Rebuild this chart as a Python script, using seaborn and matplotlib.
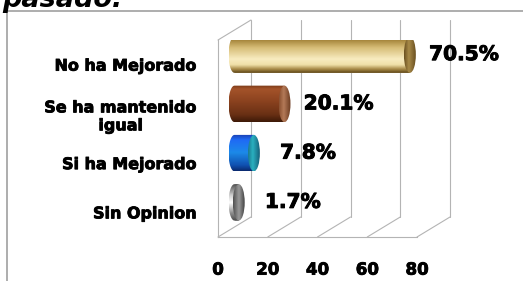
import numpy as np
import matplotlib
matplotlib.use("Agg")
import matplotlib.pyplot as plt
import matplotlib.transforms as mtransforms
import matplotlib.patheffects as pe
from matplotlib.colors import LinearSegmentedColormap
from matplotlib.patches import Ellipse, ConnectionPatch
from matplotlib.path import Path
from matplotlib.lines import Line2D
import seaborn as sns

# datos
categorias = ["No ha Mejorado", "Se ha mantenido\nigual", "Si ha Mejorado", "Sin Opinion"]
porcentajes = [70.5, 20.1, 7.8, 1.7]
etiquetas = ["70.5%", "20.1%", "7.8%", "1.7%"]
ticks_x = [0, 20, 40, 60, 80]

colores_base = ["#d9c07a", "#8e4420", "#1c7ae8", "#b0b0b0"]
degradados = [
    [(0, "#6e5220"), (0.1, "#a8883e"), (0.3, "#d6bc76"), (0.62, "#f8ecc0"),
     (0.78, "#f0e0a8"), (0.9, "#a88a48"), (1, "#5e4718")],
    [(0, "#7a3a18"), (0.1, "#a4532a"), (0.4, "#8e4420"), (0.8, "#6a3014"), (1, "#3e1a08")],
    [(0, "#1a3fb0"), (0.15, "#1f6af5"), (0.5, "#1c8ae8"), (0.85, "#1050b0"), (1, "#0a2a70")],
    [(0, "#505050"), (0.3, "#d0d0d0"), (0.5, "#ffffff"), (0.8, "#8a8a8a"), (1, "#4a4a4a")],
]
degradados_tapa = [
    [(0, "#6a5020"), (0.4, "#a88a48"), (1, "#6a5020")],
    [(0, "#8a5030"), (0.4, "#b47a58"), (1, "#6a3a20")],
    [(0, "#1a7a90"), (0.4, "#2ab0c0"), (1, "#15607a")],
    [(0, "#505050"), (0.5, "#9a9a9a"), (1, "#404040")],
]

sns.set_style("white")
plt.rcParams['font.family'] = ['DejaVu Sans']
plt.rcParams['text.color'] = 'black'
plt.rcParams['xtick.labelcolor'] = 'black'
plt.rcParams['ytick.labelcolor'] = 'black'

grueso = [pe.withStroke(linewidth=0.7, foreground="black")]

fig = plt.figure(figsize=(5.23, 2.81), dpi=100)
ax = fig.add_axes([218 / 523, 1 - 237 / 281, 199 / 523, 197 / 281])

sns.barplot(x=porcentajes, y=categorias, hue=categorias, palette=colores_base,
            orient="h", width=0.74, legend=False, ax=ax)
barras = list(ax.patches)

# profundidad 3D (px)
dx, dy = 33, 20
trans_barra = ax.transData + mtransforms.ScaledTranslation(dx / 2 / 100, dy / 2 / 100, fig.dpi_scale_trans)
trans_fondo = ax.transData + mtransforms.ScaledTranslation(dx / 100, dy / 100, fig.dpi_scale_trans)

ax.set_xlim(0, 80)
ax.set_ylim(3.5, -0.5)

gris = "#b4b4b4"
# paredes y rejilla del fondo
for t in ticks_x:
    ax.plot([t, t], [3.5, -0.5], color=gris, lw=0.8, transform=trans_fondo, clip_on=False, zorder=0.5)
    con = ConnectionPatch((t, 3.5), (t, 3.5), coordsA=ax.transData, coordsB=trans_fondo,
                          color=gris, lw=0.8, zorder=0.5)
    ax.add_artist(con)
con = ConnectionPatch((0, -0.5), (0, -0.5), coordsA=ax.transData, coordsB=trans_fondo,
                      color=gris, lw=0.8, zorder=0.5)
ax.add_artist(con)

rx = 2.4
for i, barra in enumerate(barras):
    x0 = barra.get_x()
    x1 = x0 + barra.get_width()
    y0 = barra.get_y()
    h = barra.get_height()
    yc = y0 + h / 2
    barra.set_transform(trans_barra)
    barra.set_linewidth(0)
    barra.set_zorder(1)

    th = np.linspace(0, np.pi, 40)
    verts = [(x1, y0)] + list(zip(x0 - rx * np.sin(th), yc - (h / 2) * np.cos(th))) + [(x1, y0 + h), (x1, y0)]
    camino = Path(verts, [Path.MOVETO] + [Path.LINETO] * (len(verts) - 2) + [Path.CLOSEPOLY])

    cmap = LinearSegmentedColormap.from_list("d%d" % i, degradados[i])
    img = ax.imshow(np.linspace(0, 1, 64).reshape(-1, 1), cmap=cmap, aspect="auto",
                    extent=(x0 - rx, x1, y0 + h, y0), origin="upper",
                    transform=trans_barra, zorder=2, interpolation="bilinear")
    img.set_clip_path(camino, trans_barra)

    tapa = Ellipse((x1, yc), 2 * rx, h, transform=trans_barra, facecolor="none",
                   edgecolor="none", zorder=3)
    ax.add_patch(tapa)
    cmap_t = LinearSegmentedColormap.from_list("t%d" % i, degradados_tapa[i])
    img_t = ax.imshow(np.linspace(0, 1, 64).reshape(1, -1), cmap=cmap_t, aspect="auto",
                      extent=(x1 - rx, x1 + rx, y0 + h, y0), origin="upper",
                      transform=trans_barra, zorder=3, interpolation="bilinear")
    img_t.set_clip_path(tapa)

    ax.annotate(etiquetas[i], (x1, yc), xycoords=trans_barra, xytext=(54 * 0.72, 0),
                textcoords="offset points", ha="center", va="center",
                fontsize=14.5, fontweight="bold", color="black", annotation_clip=False,
                path_effects=grueso)

ax.set_xlim(0, 80)
ax.set_ylim(3.5, -0.5)
ax.set_xticks(ticks_x)
ax.set_yticks(np.arange(-0.5, 4, 1), minor=True)
ax.tick_params(axis="y", which="major", length=0, pad=15)
ax.tick_params(axis="y", which="minor", length=4, color=gris, width=0.8)
ax.tick_params(axis="x", length=3, color=gris, width=0.8, pad=14)
for lab in ax.get_yticklabels():
    lab.set_fontsize(11.5)
    lab.set_fontweight("bold")
    lab.set_color("black")
    lab.set_multialignment("center")
    lab.set_linespacing(1.25)
    lab.set_path_effects([pe.withStroke(linewidth=0.6, foreground="black")])
for lab in ax.get_xticklabels():
    lab.set_fontsize(12)
    lab.set_fontweight("bold")
    lab.set_color("black")
    lab.set_path_effects([pe.withStroke(linewidth=0.6, foreground="black")])
ax.set_xlabel("")
ax.set_ylabel("")
for lado in ["top", "right"]:
    ax.spines[lado].set_visible(False)
for lado in ["left", "bottom"]:
    ax.spines[lado].set_color(gris)
    ax.spines[lado].set_linewidth(0.8)
ax.patch.set_alpha(0)

# marco del grafico y titulo cortado
fig.add_artist(Line2D([7 / 523, 7 / 523], [0, 1 - 11 / 281], color="#a0a0a0", lw=1.2))
fig.add_artist(Line2D([7 / 523, 1], [1 - 11 / 281, 1 - 11 / 281], color="#a0a0a0", lw=1.2))
fig.text(2 / 523, 1 - 7 / 281, "pasado:", fontsize=19.5, fontweight="bold", style="italic",
         va="baseline", ha="left", color="black")

fig.savefig("out.png", dpi=100)
